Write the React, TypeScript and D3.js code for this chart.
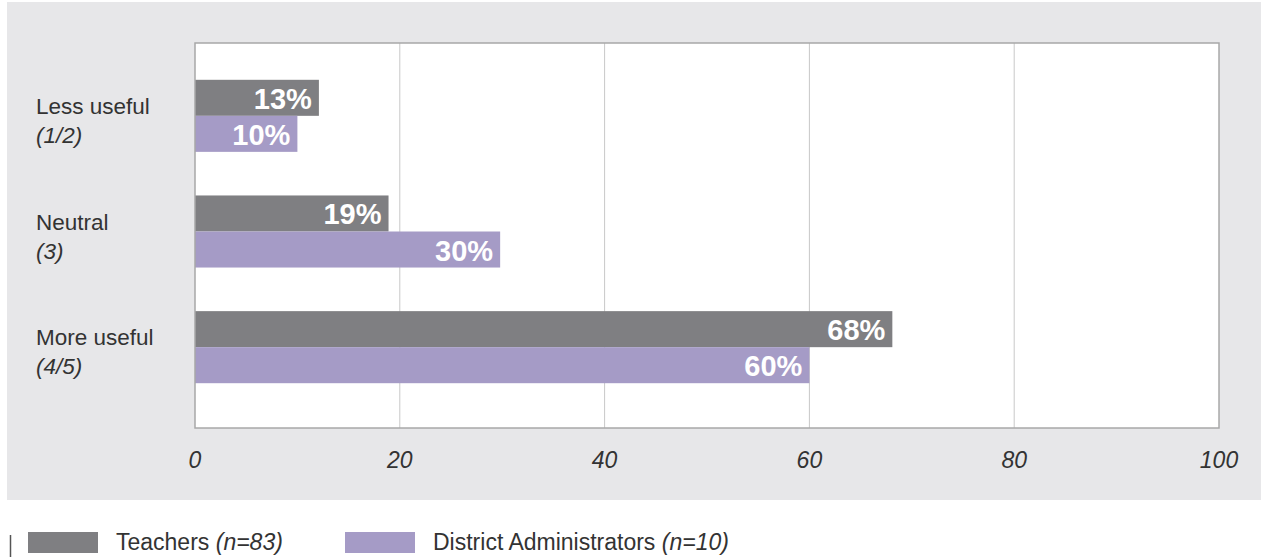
import React from "react";
import * as d3 from "d3";

const categories = ["Less useful", "Neutral", "More useful"];
const subLabels = ["(1/2)", "(3)", "(4/5)"];
const seriesNames = ["Teachers", "District Administrators"];
const seriesN = ["83", "10"];
const teachers = [12.1, 18.9, 68.1];
const teacherLabels = ["13%", "19%", "68%"];
const admins = [10, 29.8, 60];
const adminLabels = ["10%", "30%", "60%"];
const xTicks = [0, 20, 40, 60, 80, 100];

const COLORS = ["#7f7f82", "#a59bc6"];
const FONT = "'Liberation Sans', Arial, sans-serif";

export default function App() {
  const W = 1261, H = 557;
  const plot = { left: 195, right: 1219, top: 43, bottom: 428 };
  const x = d3.scaleLinear().domain([0, 100]).range([plot.left, plot.right]);
  const y = d3.scaleBand<string>().domain(categories).range([58, 405]).paddingInner(0.377).paddingOuter(0.1885);
  const bh = y.bandwidth() / 2;
  const series = [
    { vals: teachers, labels: teacherLabels },
    { vals: admins, labels: adminLabels },
  ];
  return (
    <svg width={W} height={H} style={{ position: "absolute", left: 0, top: 0, display: "block" }} fontFamily={FONT}>
      <rect x={7} y={2} width={W - 7} height={498} fill="#e7e7e9" />
      <rect x={plot.left} y={plot.top} width={plot.right - plot.left} height={plot.bottom - plot.top} fill="#ffffff" />
      {xTicks.slice(1, -1).map((t) => (
        <line key={t} x1={x(t)} x2={x(t)} y1={plot.top} y2={plot.bottom} stroke="#c8c8c8" strokeWidth={1} />
      ))}
      {categories.map((c, i) =>
        series.map((s, j) => {
          const y0 = (y(c) as number) + j * bh;
          return (
            <g key={c + j}>
              <rect x={x(0)} y={y0} width={x(s.vals[i]) - x(0)} height={bh} fill={COLORS[j]} />
              <text x={x(s.vals[i]) - 7} y={y0 + bh / 2 + 11} textAnchor="end" fill="#ffffff" fontWeight="bold" fontSize={29}>
                {s.labels[i]}
              </text>
            </g>
          );
        })
      )}
      <rect x={plot.left} y={plot.top} width={plot.right - plot.left} height={plot.bottom - plot.top} fill="none" stroke="#a8a8a8" strokeWidth={1.5} />
      {categories.map((c, i) => {
        const cy = (y(c) as number) + y.bandwidth() / 2;
        return (
          <g key={c} fill="#333333" fontSize={22.5}>
            <text x={36} y={cy - 2}>{c}</text>
            <text x={36} y={cy + 27} fontStyle="italic">{subLabels[i]}</text>
          </g>
        );
      })}
      {xTicks.map((t) => (
        <text key={t} x={x(t)} y={468} textAnchor="middle" fontStyle="italic" fontSize={23} fill="#333333">
          {t}
        </text>
      ))}
      <line x1={10.5} x2={10.5} y1={535} y2={557} stroke="#555" strokeWidth={1.5} />
      {seriesNames.map((n, j) => {
        const lx = j === 0 ? 28 : 345;
        return (
          <g key={n} fontSize={23} fill="#333333">
            <rect x={lx} y={532} width={70} height={21} fill={COLORS[j]} />
            <text x={lx + 88} y={550}>
              {n + " "}
              <tspan fontStyle="italic">{"(n=" + seriesN[j] + ")"}</tspan>
            </text>
          </g>
        );
      })}
    </svg>
  );
}
